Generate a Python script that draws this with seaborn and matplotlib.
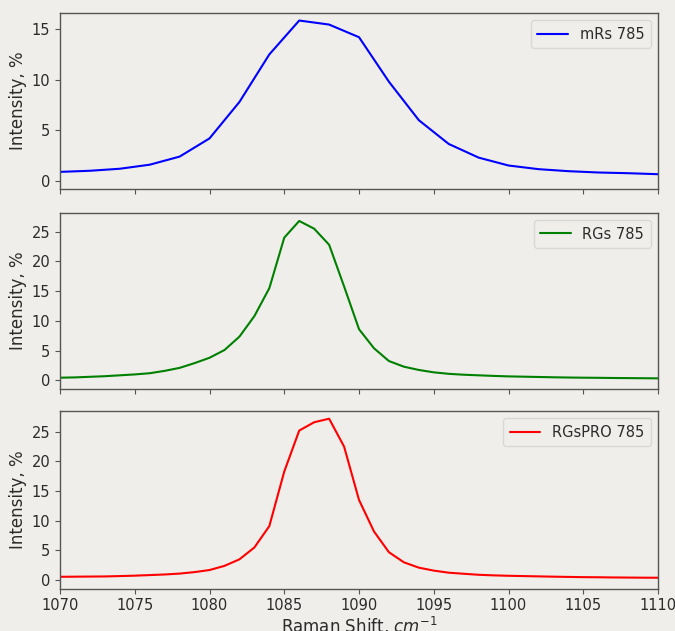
import numpy as np
import pandas as pd
import matplotlib
matplotlib.use("Agg")
import matplotlib.pyplot as plt
import seaborn as sns

# Raman shift grids (cm^-1)
shift_mrs = [1070, 1072, 1074, 1076, 1078, 1080, 1082, 1084, 1086, 1088,
             1090, 1092, 1094, 1096, 1098, 1100, 1102, 1104, 1106, 1108, 1110]
intensity_mrs = [0.89, 1.0, 1.2, 1.6, 2.4, 4.2, 7.8, 12.5, 15.85, 15.45,
                 14.2, 9.8, 6.0, 3.65, 2.3, 1.52, 1.16, 0.96, 0.83, 0.76, 0.66]

shift_fine = list(range(1070, 1111))
intensity_rgs = [0.45, 0.5, 0.6, 0.7, 0.85, 1.0, 1.2, 1.6, 2.1, 2.9,
                 3.8, 5.1, 7.35, 10.8, 15.5, 24.0, 26.8, 25.5, 22.8, 15.8,
                 8.6, 5.4, 3.25, 2.3, 1.75, 1.35, 1.1, 0.95, 0.85, 0.75,
                 0.67, 0.62, 0.57, 0.52, 0.48, 0.45, 0.43, 0.40, 0.38, 0.36,
                 0.34]
intensity_rgspro = [0.56, 0.58, 0.6, 0.62, 0.68, 0.75, 0.85, 0.95, 1.1, 1.35,
                    1.7, 2.4, 3.5, 5.5, 9.1, 18.3, 25.2, 26.6, 27.2, 22.5,
                    13.5, 8.2, 4.7, 3.0, 2.1, 1.6, 1.25, 1.07, 0.9, 0.8,
                    0.73, 0.68, 0.63, 0.58, 0.54, 0.5, 0.48, 0.45, 0.43, 0.41,
                    0.4]

series = [
    ("mRs 785", shift_mrs, intensity_mrs, "#0000ff", (-0.8, 16.6), [0, 5, 10, 15]),
    ("RGs 785", shift_fine, intensity_rgs, "#008000", (-1.4, 28.2), [0, 5, 10, 15, 20, 25]),
    ("RGsPRO 785", shift_fine, intensity_rgspro, "#ff0000", (-1.45, 28.5), [0, 5, 10, 15, 20, 25]),
]

bg = "#efeeea"
sns.set_theme(style="ticks", rc={
    "figure.facecolor": bg,
    "axes.facecolor": bg,
    "axes.edgecolor": "#555555",
    "axes.linewidth": 1.0,
    "xtick.color": "#555555",
    "ytick.color": "#555555",
    "xtick.labelcolor": "#2b2b2b",
    "ytick.labelcolor": "#2b2b2b",
    "axes.labelcolor": "#2b2b2b",
    "text.color": "#2b2b2b",
    "font.size": 10,
})
plt.rcParams["font.family"] = ["DejaVu Sans"]

fig = plt.figure(figsize=(6.75, 6.31), dpi=100)
positions = [
    [0.0889, 0.7005, 0.886, 0.279],
    [0.0889, 0.3840, 0.886, 0.279],
    [0.0889, 0.0670, 0.886, 0.2817],
]

for (label, xs, ys, color, ylim, yticks), pos in zip(series, positions):
    ax = fig.add_axes(pos)
    df = pd.DataFrame({"shift": xs, "intensity": ys})
    sns.lineplot(data=df, x="shift", y="intensity", color=color, linewidth=1.5,
                 label=label, ax=ax)
    ax.set_xlim(1070, 1110)
    ax.set_ylim(*ylim)
    ax.set_yticks(yticks)
    ax.set_xticks([1070, 1075, 1080, 1085, 1090, 1095, 1100, 1105, 1110])
    ax.set_ylabel("Intensity, %", fontsize=12, labelpad=3)
    ax.tick_params(labelsize=10.5, length=3.5, width=0.8)
    leg = ax.legend(loc="upper right", fontsize=10.5, frameon=True, fancybox=True,
                    handlelength=2.1, borderpad=0.45)
    leg.get_frame().set_facecolor(bg)
    leg.get_frame().set_edgecolor("#d4d3cf")
    if pos is positions[-1]:
        ax.set_xlabel(r"Raman Shift, $cm^{-1}$", fontsize=12, labelpad=1)
    else:
        ax.set_xlabel("")
        ax.set_xticklabels([])

fig.savefig("out.png", dpi=100, facecolor=bg)
